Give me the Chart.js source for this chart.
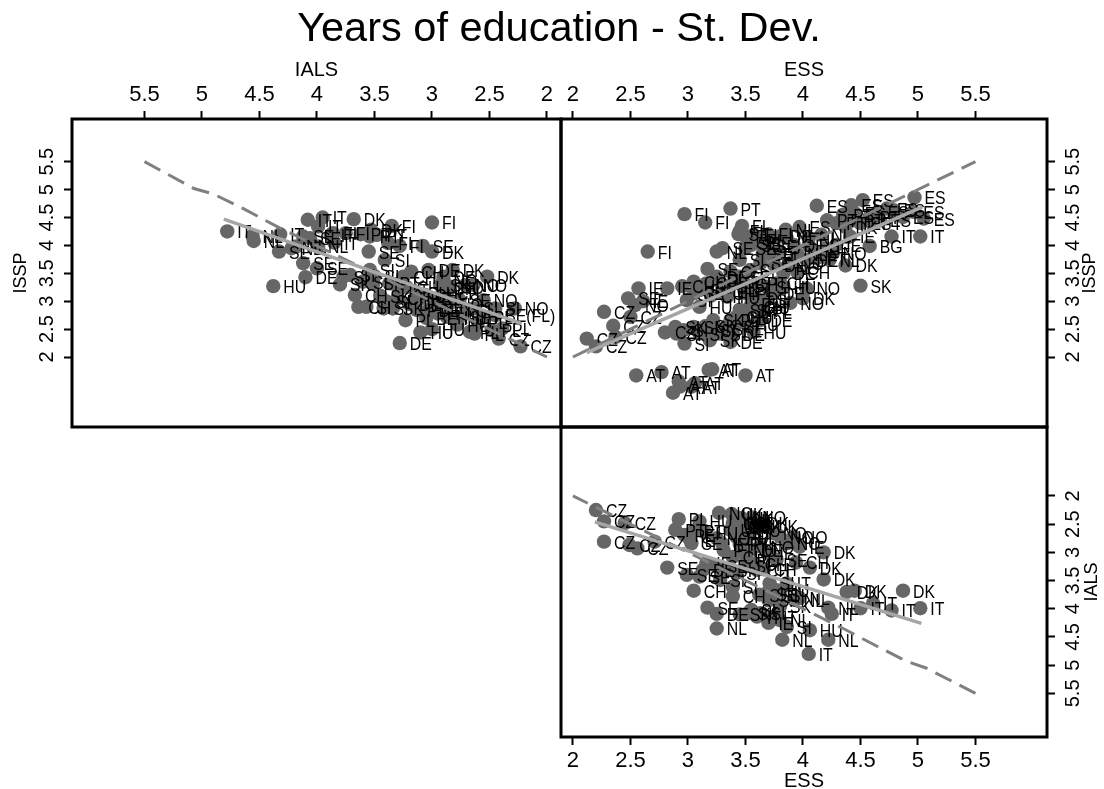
<!DOCTYPE html>
<html><head><meta charset="utf-8">
<style>html,body{margin:0;padding:0;background:#fff;overflow:hidden;width:1104px;height:789px}
canvas{position:absolute;left:0;top:0}</style>
<script src="https://cdn.jsdelivr.net/npm/chart.js@4"></script>
</head><body>
<canvas id="p1" width="1104" height="789"></canvas>
<canvas id="p2" width="1104" height="789"></canvas>
<canvas id="p3" width="1104" height="789"></canvas>
<script>
const titleText='Years of education - St. Dev.';
const tickValues=[2,2.5,3,3.5,4,4.5,5,5.5];
const FONT='"Liberation Sans"';

const codes1=['IT','NL','NL','IT','SE','NL','IT','IT','IT','IT','FI','SE','SE','NL','SE','SE','DE','HU','SI','SI','DK','PT','PT','DK','FI','FI','FI','SE','SI','SE','DK','FI','CH','DE','DK','DK','SI','SI','SK','CH','CH','SI','SI','SK','PT','PT','PL','DE','HU','HU','NO','NO','NO','CH','SE','SI','NO','BE(FL)','PL','PL','CZ','CZ','PL','PL','HU','HU','BE','CH','CH','DE','PT','DE','SK','SE','SI','PL','NO','CH','CH','DE','SK','SI','CH','CH','DE','BE','SE','NO','HU','BE','NO','SI','PL','HU','SI','SK','IT','FI','PT','NL'];
const ials1=[4.78,4.56,4.55,4.32,4.33,4.22,4.08,3.95,3.99,3.88,3.86,4.06,4.12,3.99,4.12,4.00,4.10,4.38,3.77,3.71,3.68,3.54,3.48,3.53,3.35,3.38,3.28,3.55,3.41,3.08,3.00,3.00,3.18,3.03,2.82,2.52,3.54,3.60,3.51,3.67,3.64,3.57,3.42,3.34,3.37,3.29,3.23,3.28,3.10,3.00,2.84,2.71,2.64,2.90,2.76,2.45,2.28,2.45,2.39,2.48,2.42,2.23,2.63,2.67,2.87,2.81,2.99,3.13,3.06,3.16,3.13,3.03,2.93,2.76,2.64,2.55,2.55,2.87,3.25,2.90,3.45,3.40,3.30,3.22,3.20,3.10,2.95,2.85,2.95,3.05,2.90,2.70,2.60,2.78,3.50,3.80,3.85,3.75,3.62,4.18];
const issp1=[4.25,4.17,4.08,4.20,3.89,3.95,4.46,4.50,4.34,4.19,4.22,4.13,4.16,3.98,3.68,3.59,3.43,3.27,3.44,3.47,4.47,4.16,4.19,4.28,4.35,4.04,3.99,3.89,3.74,3.99,3.89,4.41,3.53,3.56,3.56,3.44,3.56,3.35,3.32,3.11,2.90,2.90,2.87,2.87,3.32,3.20,2.66,2.25,2.44,2.50,3.26,3.29,3.29,3.23,3.02,2.87,2.87,2.75,2.51,2.48,2.33,2.19,2.42,2.45,2.72,2.69,2.90,3.14,3.11,2.99,2.84,2.84,3.29,2.72,2.87,2.72,3.02,3.14,3.44,3.44,3.10,3.00,3.05,3.25,2.95,3.05,3.05,2.95,2.78,2.70,3.38,2.85,2.62,2.58,3.45,3.30,4.05,4.22,4.20,3.98];

const codes2=['FI','FI','FI','PT','FI','ES','ES','ES','ES','ES','ES','ES','IT','IT','BG','SK','DK','AT','AT','AT','AT','AT','AT','AT','AT','AT','AT','CZ','CZ','CZ','CZ','CZ','CZ','CZ','IE','SE','NO','IE','IE','CH','SE','NL','SE','SI','HU','DE','SK','SI','NO','DK','HU','NO','CH','FI','FI','SE','SE','SE','DE','NL','ES','NL','DE','PT','FI','SE','SI','SE','CH','SI','CH','PT','PL','SI','DE','HU','SK','HU','PL','DE','SK','SK','SI','SI','SK','SI','SI','DE','SK','NL','PT','PT','DK','IE','PT','ES','PT','ES','ES','ES','IE','NO','NL','PT','DE','NO','DE','CH','HU','CH','CH','SI','DE','PL','HU','SI','PL','SE','SE','FI','SE','FI','SE','SE','SI','CH','DE','PL','PL','SK','HU','SI','SK','SK','SI','SI','CH','SI','CH','CH','DE','NO','NL','IE','IE','ES','FI','NL','PT','ES','PT','ES'];
const ess2=[2.97,3.15,2.65,3.37,3.47,4.12,4.42,4.52,4.97,5.05,4.96,4.73,4.77,5.02,4.58,4.50,4.37,2.55,2.77,3.21,3.50,2.92,2.87,3.06,2.93,3.03,3.18,2.12,2.20,2.27,2.35,2.50,2.80,2.37,2.57,2.48,2.54,2.61,2.82,2.95,3.05,3.25,3.17,3.45,3.57,3.37,3.19,2.97,3.89,4.00,3.83,4.03,3.95,3.50,3.57,3.55,3.63,3.68,3.80,3.86,3.97,4.05,3.92,3.80,3.74,3.63,3.54,3.45,3.37,3.25,3.16,3.60,3.51,3.68,3.74,3.60,3.51,3.45,3.37,3.63,3.22,3.05,2.96,2.90,2.89,3.10,3.28,3.39,3.34,4.16,4.21,4.29,4.37,4.41,4.44,4.50,4.58,4.67,4.79,4.87,4.29,4.26,4.23,4.12,4.03,3.89,3.83,3.77,3.34,3.42,3.57,3.68,3.25,3.34,3.10,2.99,3.49,3.44,3.30,3.45,3.52,3.60,3.50,3.65,3.40,3.50,3.60,3.55,3.65,3.45,3.50,3.40,3.30,3.15,3.20,3.10,3.20,3.15,3.30,3.05,3.75,3.85,3.95,4.10,4.20,4.05,3.70,3.85,4.35,4.45,4.60,4.65];
const issp2=[4.56,4.41,3.89,4.66,4.35,4.71,4.72,4.81,4.86,4.48,4.60,4.66,4.16,4.16,3.99,3.28,3.64,1.67,1.73,1.78,1.67,1.56,1.36,1.53,1.47,1.47,1.77,2.33,2.19,2.81,2.56,2.72,2.44,2.36,3.23,3.05,2.93,3.00,3.23,3.27,3.14,3.89,3.58,3.74,2.45,2.27,2.30,2.24,2.97,3.05,3.26,3.23,3.53,4.16,4.19,4.01,4.04,3.98,4.16,4.13,4.33,4.13,4.01,3.89,3.80,3.68,3.56,3.44,3.53,3.38,3.32,3.32,3.14,3.26,3.14,2.90,2.84,2.72,2.66,2.66,2.66,2.54,2.48,2.42,2.54,2.42,2.42,2.42,3.26,4.19,4.45,4.40,4.33,4.16,4.45,4.40,4.51,4.45,4.63,4.51,4.01,3.86,3.74,3.77,3.74,3.68,3.50,3.32,3.08,2.72,2.90,3.02,3.44,3.20,2.90,3.02,3.20,4.20,3.95,4.25,4.05,4.10,3.95,3.85,3.35,3.30,3.05,2.95,2.80,2.85,2.60,2.55,2.50,2.55,2.48,3.20,3.10,3.25,3.15,3.35,3.65,3.60,3.85,3.90,3.95,4.00,4.20,4.28,4.55,4.58,4.40,4.60];

const codes3=['CZ','CZ','CZ','CZ','CZ','CZ','CZ','PL','HU','NO','UK','PT','PE','IE','SE','SE','CH','SE','SE','SE','DE','NL','CH','NL','NL','IT','HU','DK','DK','CH','DK','DK','DK','DK','IT','IT','IT','NL','IT','IT','UK','UK','UK','HU','PL','UK','DK','UK','NO','NO','NO','NO','NO','IE','SE','PT','NO','CH','PL','IE','DE','SI','SI','SI','SI','CH','SI','SE','SI','HU','IT','SI','SI','IT','IT','NL','SI','SK','NL','NL','HU','SI','SI','IE','UK','UK','HU','NO','UK','DK','HU','PL','PT','DE','IE','NO','CH','CH','SI','SE','SI','SI','SI','SK','SK','IE','HU','PT'];
const ess3=[2.20,2.27,2.45,2.27,2.49,2.56,2.71,2.92,3.10,3.27,3.47,2.89,2.97,3.02,3.03,2.82,3.05,2.99,3.10,3.17,3.25,3.25,3.39,3.82,4.22,4.05,4.06,4.18,4.06,3.94,4.18,4.38,4.45,4.87,5.02,4.77,4.61,4.22,4.25,4.50,3.39,3.45,3.37,3.42,3.48,3.54,3.60,3.68,3.74,3.80,3.86,3.92,3.63,3.71,3.77,3.31,3.48,3.39,3.51,3.16,3.13,3.34,3.42,3.28,3.39,3.60,3.71,3.68,3.74,3.77,3.86,3.63,3.55,3.60,3.74,3.80,3.86,3.80,3.92,3.97,3.42,3.50,3.45,3.97,3.38,3.44,3.52,3.56,3.40,3.47,3.42,3.52,3.45,3.55,3.30,3.25,3.58,3.66,3.50,3.25,3.62,3.70,3.80,3.45,3.52,3.70,3.15,3.05];
const ials3=[2.25,2.45,2.48,2.81,2.87,2.93,2.81,2.41,2.45,2.30,2.40,2.60,2.69,2.78,2.84,3.27,3.68,3.40,3.43,3.98,4.09,4.35,3.78,4.55,4.55,4.80,4.38,3.00,3.27,3.18,3.48,3.70,3.68,3.68,3.99,4.03,3.90,3.98,4.09,3.99,2.48,2.43,2.60,2.72,2.84,2.54,2.48,2.54,2.66,2.72,2.84,2.72,2.90,3.02,3.13,2.96,2.96,3.08,3.13,3.19,3.31,3.31,3.37,3.49,3.61,3.31,3.55,3.73,3.78,3.67,3.55,4.08,4.02,4.14,4.14,4.20,4.32,3.96,3.84,3.81,2.37,2.48,2.66,2.90,2.32,2.55,2.60,2.38,2.55,2.52,2.47,2.72,2.85,2.95,2.85,2.75,3.20,3.30,3.25,3.25,3.75,3.85,3.75,4.10,4.08,4.25,2.65,2.62];

const fit1X=[4.81,2.22], fit1Y=[4.47,2.60];
const fit2X=[2.12,5.04], fit2Y=[2.08,4.69];
const fit3X=[2.19,5.03], fit3Y=[2.46,4.26];
const ref1X=[5.5,5.07,4.9,4.64,4.35,2], ref1Y=[5.5,5.02,4.92,4.66,4.34,2];
const ref2X=[2,5.5], ref2Y=[2,5.5];
const ref3X=[5.5,5.07,4.9,4.64,4.35,2], ref3Y=[5.5,5.05,4.93,4.66,4.35,2];

const zip=(a,b)=>a.map((v,i)=>({x:v,y:b[i]}));
const setTicks=s=>{s.ticks=tickValues.map(v=>({value:v}));};

const panelPlugin={
  id:'panel',
  afterDatasetDraw(chart,args,opts){
    if(args.index!==2)return;
    const c=chart.ctx,meta=chart.getDatasetMeta(2);
    c.save();c.font='18px '+FONT;c.fillStyle='#000';c.textAlign='left';c.textBaseline='middle';
    meta.data.forEach((p,i)=>{
      c.save();c.translate(p.x+10,p.y+2);c.scale(0.88,1);
      c.fillText(opts.codes[i],0,0);c.restore();
    });
    c.restore();
  },
  afterDraw(chart,args,opts){
    const c=chart.ctx,a=chart.chartArea;
    c.save();
    c.strokeStyle='#000';c.lineWidth=3;
    c.strokeRect(a.left,a.top,a.right-a.left,a.bottom-a.top);
    c.fillStyle='#000';c.textAlign='center';c.textBaseline='middle';
    if(opts.mainTitle){
      c.font='41.5px '+FONT;
      c.fillText(opts.mainTitle,559,30);
    }
    c.font='20px '+FONT;
    if(opts.xTitle)c.fillText(opts.xTitle,(a.left+a.right)/2,opts.xTitleY);
    if(opts.yTitle){
      c.font='18px '+FONT;
      c.translate(opts.yTitleX,(a.top+a.bottom)/2);c.rotate(-Math.PI/2);
      c.fillText(opts.yTitle,0,0);
    }
    c.restore();
  }
};

function makePanel(id,cfg){
  const axisX={type:'linear',position:cfg.xPos,min:cfg.xMin,max:cfg.xMax,reverse:!!cfg.xRev,
    afterBuildTicks:setTicks,afterFit:s=>{s.height=cfg.xH;},
    grid:{drawOnChartArea:false,drawTicks:true,tickLength:8,tickWidth:2,tickColor:'#000'},
    border:{display:false},
    ticks:{autoSkip:false,maxRotation:0,minRotation:0,font:{family:FONT,size:22},color:'#000',padding:3,callback:v=>String(v)}};
  const axisY={type:'linear',position:cfg.yPos,min:cfg.yMin,max:cfg.yMax,reverse:!!cfg.yRev,
    afterBuildTicks:setTicks,afterFit:s=>{s.width=cfg.yW;},
    grid:{drawOnChartArea:false,drawTicks:true,tickLength:8,tickWidth:2,tickColor:'#000'},
    border:{display:false},
    ticks:{autoSkip:false,minRotation:90,maxRotation:90,crossAlign:'center',font:{family:FONT,size:20},color:'#000',padding:cfg.yPad,callback:v=>String(v)}};
  return new Chart(document.getElementById(id),{
    type:'scatter',
    data:{datasets:[
      {data:zip(cfg.fitX,cfg.fitY),showLine:true,pointRadius:0,borderColor:'#a6a6a6',borderWidth:3.5,fill:false},
      {data:zip(cfg.refX,cfg.refY),showLine:true,pointRadius:0,borderColor:'#808080',borderWidth:3,borderDash:[18,9],fill:false},
      {data:zip(cfg.xs,cfg.ys),pointRadius:7.2,pointHoverRadius:7.2,backgroundColor:'#666666',borderWidth:0,pointBorderWidth:0}
    ]},
    options:{responsive:false,animation:false,devicePixelRatio:1,
      layout:{padding:cfg.padding},
      plugins:{legend:{display:false},tooltip:{enabled:false},title:{display:false},
        panel:{codes:cfg.codes,mainTitle:cfg.title,xTitle:cfg.xTitle,xTitleY:cfg.xTitleY,yTitle:cfg.yTitle,yTitleX:cfg.yTitleX}},
      scales:{x:axisX,y:axisY}
    },
    plugins:[panelPlugin]
  });
}

makePanel('p1',{title:titleText,xPos:'top',yPos:'left',xH:119,yW:72,yPad:2.4,
  padding:{left:0,top:0,right:543,bottom:362},
  xMin:1.878,xMax:6.13,xRev:true,yMin:0.746,yMax:6.265,
  xs:ials1,ys:issp1,codes:codes1,fitX:fit1X,fitY:fit1Y,refX:ref1X,refY:ref1Y,
  xTitle:'IALS',xTitleY:70,yTitle:'ISSP',yTitleX:21});
makePanel('p2',{xPos:'top',yPos:'right',xH:119,yW:57,yPad:4.4,
  padding:{left:561,top:0,right:0,bottom:362},
  xMin:1.896,xMax:6.122,yMin:0.746,yMax:6.265,
  xs:ess2,ys:issp2,codes:codes2,fitX:fit2X,fitY:fit2Y,refX:ref2X,refY:ref2Y,
  xTitle:'ESS',xTitleY:70,yTitle:'ISSP',yTitleX:1090});
makePanel('p3',{xPos:'bottom',yPos:'right',xH:52,yW:57,yPad:4.4,
  padding:{left:561,top:427,right:0,bottom:0},
  xMin:1.896,xMax:6.122,yMin:0.777,yMax:6.274,yRev:true,
  xs:ess3,ys:ials3,codes:codes3,fitX:fit3X,fitY:fit3Y,refX:ref3X,refY:ref3Y,
  xTitle:'ESS',xTitleY:781,yTitle:'IALS',yTitleX:1092});
</script>
</body></html>
